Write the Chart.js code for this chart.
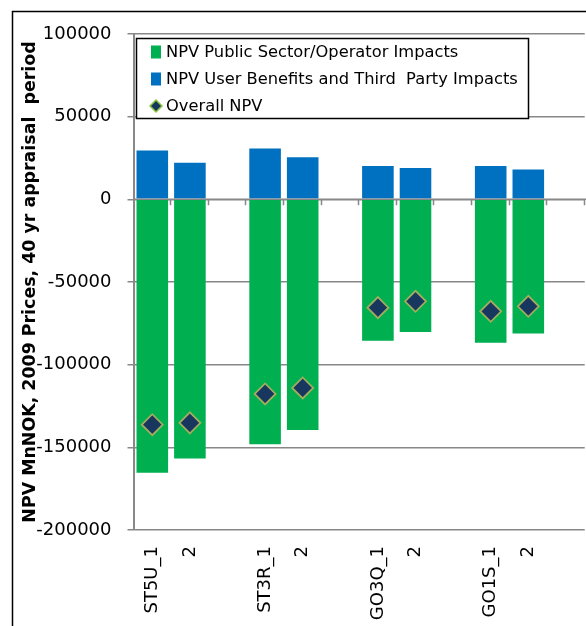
<!DOCTYPE html>
<html>
<head>
<meta charset="utf-8">
<script src="https://cdn.jsdelivr.net/npm/chart.js@4.4.1/dist/chart.umd.min.js"></script>
<style>
  html, body { margin: 0; padding: 0; background: #fff; overflow: hidden; width: 586px; height: 626px; }
  #c { position: absolute; left: 0; top: 0; }
</style>
</head>
<body>
<canvas id="c" width="597" height="626"></canvas>
<script>
const categories = ['ST5U_1', '2', '', 'ST3R_1', '2', '', 'GO3Q_1', '2', '', 'GO1S_1', '2', ''];
const publicSectorImpacts = [-165300, -156800, null, -148200, -139500, null, -85600, -80200, null, -86700, -81200, null];
const userBenefitsImpacts = [29600, 22200, null, 30800, 25400, null, 20200, 19000, null, 20200, 18000, null];
const overallNPV = [-136300, -135200, null, -117700, -114100, null, -65500, -61700, null, -67700, -64700, null];
const yTickValues = [-200000, -150000, -100000, -50000, 0, 50000, 100000];
const seriesLabels = ['NPV Public Sector/Operator Impacts', 'NPV User Benefits and Third  Party Impacts', 'Overall NPV'];
const yTitle = 'NPV MnNOK, 2009 Prices, 40 yr appraisal  period';

const GREEN = '#00B050', BLUE = '#0070C0', NAVY = '#17375E', OLIVE = '#A3AC5E';
const GRID = '#888888';

const framePlugin = {
  id: 'frame',
  beforeDraw(chart) {
    const ctx = chart.ctx;
    ctx.save();
    ctx.strokeStyle = '#000';
    ctx.lineWidth = 1.5;
    ctx.strokeRect(12.5, 11.5, 800, 800);
    ctx.restore();
  }
};

const zeroTicksPlugin = {
  id: 'zeroTicks',
  afterDatasetsDraw(chart) {
    const ctx = chart.ctx;
    const x = chart.scales.x, y = chart.scales.y;
    const y0 = y.getPixelForValue(0);
    const n = categories.length;
    const w = (x.right - x.left) / n;
    ctx.save();
    ctx.strokeStyle = GRID;
    ctx.lineWidth = 1.5;
    ctx.beginPath();
    ctx.moveTo(x.left, y0);
    ctx.lineTo(x.right + 2, y0);
    for (let i = 1; i <= n; i++) {
      const px = Math.round(x.left + i * w) - 0.5;
      ctx.moveTo(px, y0);
      ctx.lineTo(px, y0 + 6);
    }
    ctx.stroke();
    ctx.restore();
  }
};

const legendBoxPlugin = {
  id: 'legendBox',
  afterDraw(chart) {
    const ctx = chart.ctx;
    const bx = 136.5, by = 38.5, bw = 392, bh = 80;
    ctx.save();
    ctx.fillStyle = '#fff';
    ctx.fillRect(bx, by, bw, bh);
    ctx.strokeStyle = '#000';
    ctx.lineWidth = 1.5;
    ctx.strokeRect(bx, by, bw, bh);
    ctx.font = '16.3px "DejaVu Sans"';
    ctx.fillStyle = '#000';
    ctx.textBaseline = 'middle';
    ctx.textAlign = 'left';
    const rows = [52, 79, 106];
    const ds = chart.data.datasets;
    for (let i = 0; i < 3; i++) {
      const cy = rows[i];
      const d = ds[i];
      if (d.type === 'line') {
        ctx.beginPath();
        ctx.moveTo(156, cy - 6);
        ctx.lineTo(162, cy);
        ctx.lineTo(156, cy + 6);
        ctx.lineTo(150, cy);
        ctx.closePath();
        ctx.fillStyle = d.backgroundColor;
        ctx.fill();
        ctx.strokeStyle = '#8CC63F';
        ctx.lineWidth = 1.5;
        ctx.stroke();
      } else {
        ctx.fillStyle = d.backgroundColor;
        ctx.fillRect(151, cy - 6.5, 10, 13);
      }
      ctx.fillStyle = '#000';
      ctx.fillText(d.label, 166, cy + 1);
    }
    ctx.restore();
  }
};

new Chart(document.getElementById('c'), {
  data: {
    labels: categories,
    datasets: [
      {
        type: 'bar',
        label: seriesLabels[0],
        data: publicSectorImpacts,
        backgroundColor: GREEN,
        stack: 'bars',
        order: 1,
        barPercentage: 0.84,
        categoryPercentage: 1.0
      },
      {
        type: 'bar',
        label: seriesLabels[1],
        data: userBenefitsImpacts,
        backgroundColor: BLUE,
        stack: 'bars',
        order: 1,
        barPercentage: 0.84,
        categoryPercentage: 1.0
      },
      {
        type: 'line',
        label: seriesLabels[2],
        data: overallNPV,
        showLine: false,
        stack: 'npv',
        order: 0,
        pointStyle: 'rectRot',
        pointRadius: 10.5,
        pointHoverRadius: 10.5,
        backgroundColor: NAVY,
        borderColor: OLIVE,
        pointBorderWidth: 1.8
      }
    ]
  },
  options: {
    responsive: false,
    animation: false,
    events: [],
    layout: { padding: { top: 34, right: 1, left: 0, bottom: 0 } },
    plugins: {
      legend: { display: false },
      tooltip: { enabled: false }
    },
    scales: {
      x: {
        stacked: true,
        grid: { display: false, drawTicks: false },
        border: { display: false },
        ticks: {
          autoSkip: false,
          maxRotation: 90,
          minRotation: 90,
          padding: 16,
          color: '#000',
          font: { family: 'DejaVu Sans', size: 18 }
        },
        afterFit(scale) {
          scale.height = 96;
          scale.paddingLeft = 0;
          scale.paddingRight = 0;
        }
      },
      y: {
        stacked: true,
        min: -200000,
        max: 100000,
        afterBuildTicks(scale) { scale.ticks = yTickValues.map(v => ({ value: v })); },
        grid: { color: GRID, lineWidth: 1.5, tickLength: 6 },
        border: { display: true, color: GRID, width: 2 },
        ticks: {
          padding: 16,
          color: '#000',
          font: { family: 'DejaVu Sans', size: 18 },
          callback: (v) => String(v)
        },
        title: {
          display: true,
          text: yTitle,
          color: '#000',
          padding: { top: 20, bottom: 0 },
          font: { family: 'DejaVu Sans', size: 17.4, weight: 'bold' }
        },
        afterFit(scale) {
          scale.width = 133.5;
          scale.paddingTop = 0;
          scale.paddingBottom = 0;
        }
      }
    }
  },
  plugins: [framePlugin, zeroTicksPlugin, legendBoxPlugin]
});
</script>
</body>
</html>
